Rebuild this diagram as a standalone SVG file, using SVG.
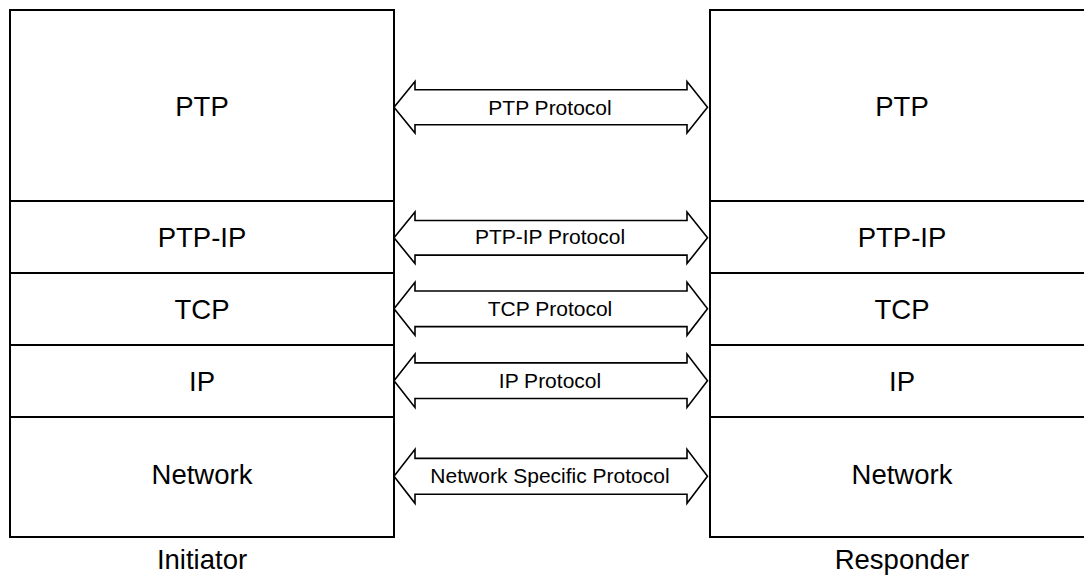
<svg xmlns="http://www.w3.org/2000/svg" width="1084" height="575" viewBox="0 0 1084 575">
<style>
.box{fill:#fff;stroke:#000;stroke-width:2}
.big{font-family:"Liberation Sans",Arial,sans-serif;font-size:27.5px;fill:#000;text-anchor:middle}
.small{font-family:"Liberation Sans",Arial,sans-serif;font-size:21px;fill:#000;text-anchor:middle}
.arrow{fill:#fff;stroke:#000;stroke-width:1.6;stroke-linejoin:miter}
</style>
<rect width="1084" height="575" fill="#fff"/>
<g id="initiator">
  <g id="i-ptp"><rect class="box" x="10" y="10" width="384" height="191"/><text class="big" x="202" y="116">PTP</text></g>
  <g id="i-ptpip"><rect class="box" x="10" y="201" width="384" height="72"/><text class="big" x="202" y="246.7">PTP-IP</text></g>
  <g id="i-tcp"><rect class="box" x="10" y="273" width="384" height="72"/><text class="big" x="202" y="319">TCP</text></g>
  <g id="i-ip"><rect class="box" x="10" y="345" width="384" height="72"/><text class="big" x="202" y="391">IP</text></g>
  <g id="i-net"><rect class="box" x="10" y="417" width="384" height="120"/><text class="big" x="202" y="483.5">Network</text></g>
  <text class="big" x="202" y="569.3">Initiator</text>
</g>
<g id="responder">
  <g id="r-ptp"><rect class="box" x="710" y="10" width="384" height="191"/><text class="big" x="902" y="116">PTP</text></g>
  <g id="r-ptpip"><rect class="box" x="710" y="201" width="384" height="72"/><text class="big" x="902" y="246.7">PTP-IP</text></g>
  <g id="r-tcp"><rect class="box" x="710" y="273" width="384" height="72"/><text class="big" x="902" y="319">TCP</text></g>
  <g id="r-ip"><rect class="box" x="710" y="345" width="384" height="72"/><text class="big" x="902" y="391">IP</text></g>
  <g id="r-net"><rect class="box" x="710" y="417" width="384" height="120"/><text class="big" x="902" y="483.5">Network</text></g>
  <text class="big" x="902" y="569.3">Responder</text>
</g>
<g id="connectors">
  <g transform="translate(0,107.3)">
    <polygon class="arrow" points="394,0 415,-25.7 415,-17.5 687,-17.5 687,-25.7 707.5,0 687,25.7 687,17.5 415,17.5 415,25.7"/>
    <text class="small" x="550" y="7.7">PTP Protocol</text>
  </g>
  <g transform="translate(0,237.8)">
    <polygon class="arrow" points="394,0 415,-25.7 415,-17.3 687,-17.3 687,-25.7 707.5,0 687,25.7 687,17.3 415,17.3 415,25.7"/>
    <text class="small" x="550" y="6.5">PTP-IP Protocol</text>
  </g>
  <g transform="translate(0,308.8)">
    <polygon class="arrow" points="394,0 415,-26.5 415,-17.8 687,-17.8 687,-26.5 707.5,0 687,26.5 687,17.8 415,17.8 415,26.5"/>
    <text class="small" x="550" y="7.2">TCP Protocol</text>
  </g>
  <g transform="translate(0,380.7)">
    <polygon class="arrow" points="394,0 415,-26.7 415,-17.8 687,-17.8 687,-26.7 707.5,0 687,26.7 687,17.8 415,17.8 415,26.7"/>
    <text class="small" x="550" y="7.5">IP Protocol</text>
  </g>
  <g transform="translate(0,476.3)">
    <polygon class="arrow" points="394,0 415,-27 415,-17.9 687,-17.9 687,-27 707.5,0 687,27 687,17.9 415,17.9 415,27"/>
    <text class="small" x="550" y="7">Network Specific Protocol</text>
  </g>
</g>
</svg>
